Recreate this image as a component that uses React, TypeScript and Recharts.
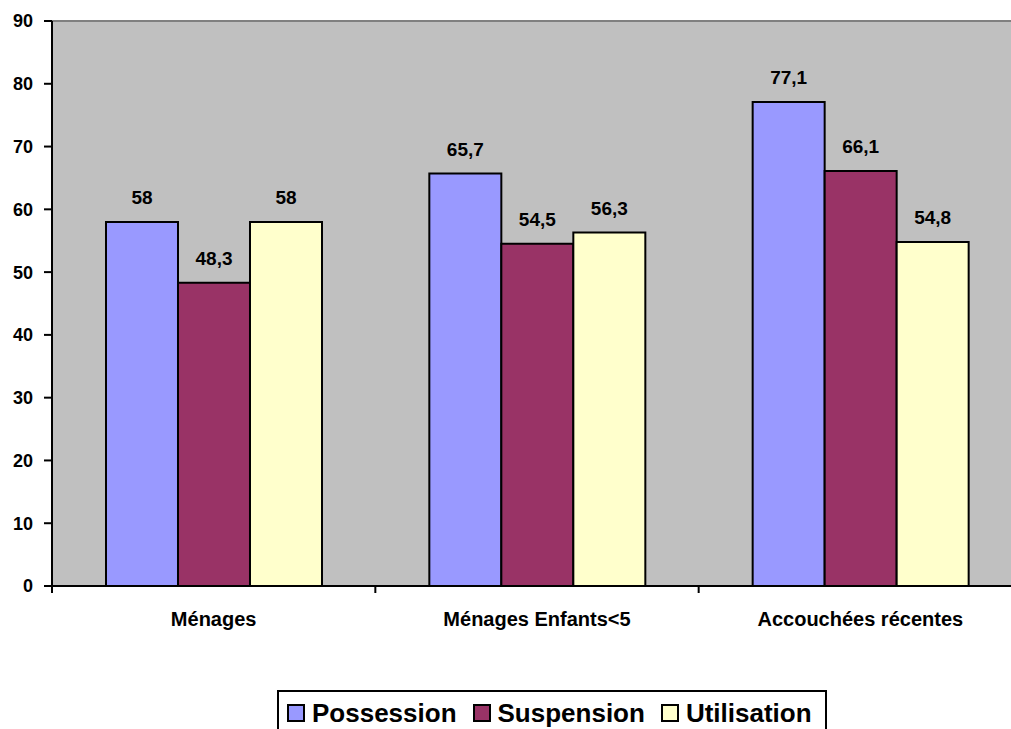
import React from "react";
import {
  BarChart,
  Bar,
  XAxis,
  YAxis,
  CartesianGrid,
  LabelList,
  ReferenceLine,
} from "recharts";

const categories = ["Ménages", "Ménages Enfants<5", "Accouchées récentes"];
const possession = [58, 65.7, 77.1];
const suspension = [48.3, 54.5, 66.1];
const utilisation = [58, 56.3, 54.8];
const yTicks = [0, 10, 20, 30, 40, 50, 60, 70, 80, 90];

const series = [
  { key: "possession", name: "Possession", color: "#9999FF" },
  { key: "suspension", name: "Suspension", color: "#993366" },
  { key: "utilisation", name: "Utilisation", color: "#FFFFCC" },
];

const data = categories.map((name, i) => ({
  name,
  possession: possession[i],
  suspension: suspension[i],
  utilisation: utilisation[i],
}));

const FONT = "'Liberation Sans', Arial, Helvetica, sans-serif";
const fmt = (v: any) => String(v).replace(".", ",");

// Category label plus tick marks on the band boundaries (not the centres)
const CategoryTick = (props: any) => {
  const { x, y, payload, index, visibleTicksCount } = props;
  const half = payload && typeof payload.offset === "number" ? payload.offset : 0;
  const isLast = index === (visibleTicksCount ?? categories.length) - 1;
  return (
    <g>
      {half > 0 && (
        <line x1={x - half} x2={x - half} y1={y} y2={y + 7} stroke="#000" strokeWidth={2} />
      )}
      {half > 0 && isLast && (
        <line x1={x + half} x2={x + half} y1={y} y2={y + 7} stroke="#000" strokeWidth={2} />
      )}
      <text
        x={x}
        y={y + 40}
        textAnchor="middle"
        fill="#000"
        fontSize={20}
        fontWeight={700}
        fontFamily={FONT}
      >
        {payload.value}
      </text>
    </g>
  );
};

export default function App() {
  return (
    <div
      style={{
        position: "absolute",
        left: 0,
        top: 0,
        width: 1011,
        height: 729,
        overflow: "hidden",
        background: "#ffffff",
        fontFamily: FONT,
      }}
    >
      <BarChart
        width={1022}
        height={729}
        data={data}
        margin={{ top: 21, right: 0, bottom: 103, left: 0 }}
        barCategoryGap="16.7%"
        barGap={0}
      >
        <CartesianGrid horizontal={false} vertical={false} fill="#C0C0C0" />
        <XAxis
          dataKey="name"
          height={40}
          axisLine={{ stroke: "#000", strokeWidth: 2 }}
          tickLine={false}
          tickSize={0}
          tickMargin={0}
          interval={0}
          tick={CategoryTick}
        />
        <YAxis
          domain={[0, 90]}
          ticks={yTicks}
          interval={0}
          width={52}
          tickSize={8}
          tickMargin={11}
          tickLine={{ stroke: "#000", strokeWidth: 2 }}
          axisLine={{ stroke: "#000", strokeWidth: 2 }}
          tick={{ fill: "#000", fontSize: 18, fontWeight: 700, fontFamily: FONT }}
        />
        <ReferenceLine y={90} stroke="#808080" strokeWidth={2} />
        {series.map((s) => (
          <Bar
            key={s.key}
            dataKey={s.key}
            name={s.name}
            fill={s.color}
            stroke="#000"
            strokeWidth={2}
            isAnimationActive={false}
          >
            <LabelList
              dataKey={s.key}
              position="top"
              offset={18}
              formatter={fmt}
              style={{ fill: "#000", fontSize: 19, fontWeight: 700, fontFamily: FONT }}
            />
          </Bar>
        ))}
      </BarChart>
      <div
        style={{
          position: "absolute",
          left: 277,
          top: 690,
          width: 550,
          height: 50,
          boxSizing: "border-box",
          border: "2px solid #000",
          background: "#fff",
          display: "flex",
          alignItems: "flex-start",
          paddingLeft: 8,
          paddingTop: 7,
          fontSize: 26,
          fontWeight: 700,
          color: "#000",
          lineHeight: "28px",
        }}
      >
        {series.map((s) => (
          <div
            key={s.key}
            style={{ display: "flex", alignItems: "center", marginRight: 16 }}
          >
            <span
              style={{
                display: "inline-block",
                width: 18,
                height: 18,
                boxSizing: "border-box",
                border: "2px solid #000",
                background: s.color,
                marginRight: 7,
              }}
            />
            <span>{s.name}</span>
          </div>
        ))}
      </div>
    </div>
  );
}
